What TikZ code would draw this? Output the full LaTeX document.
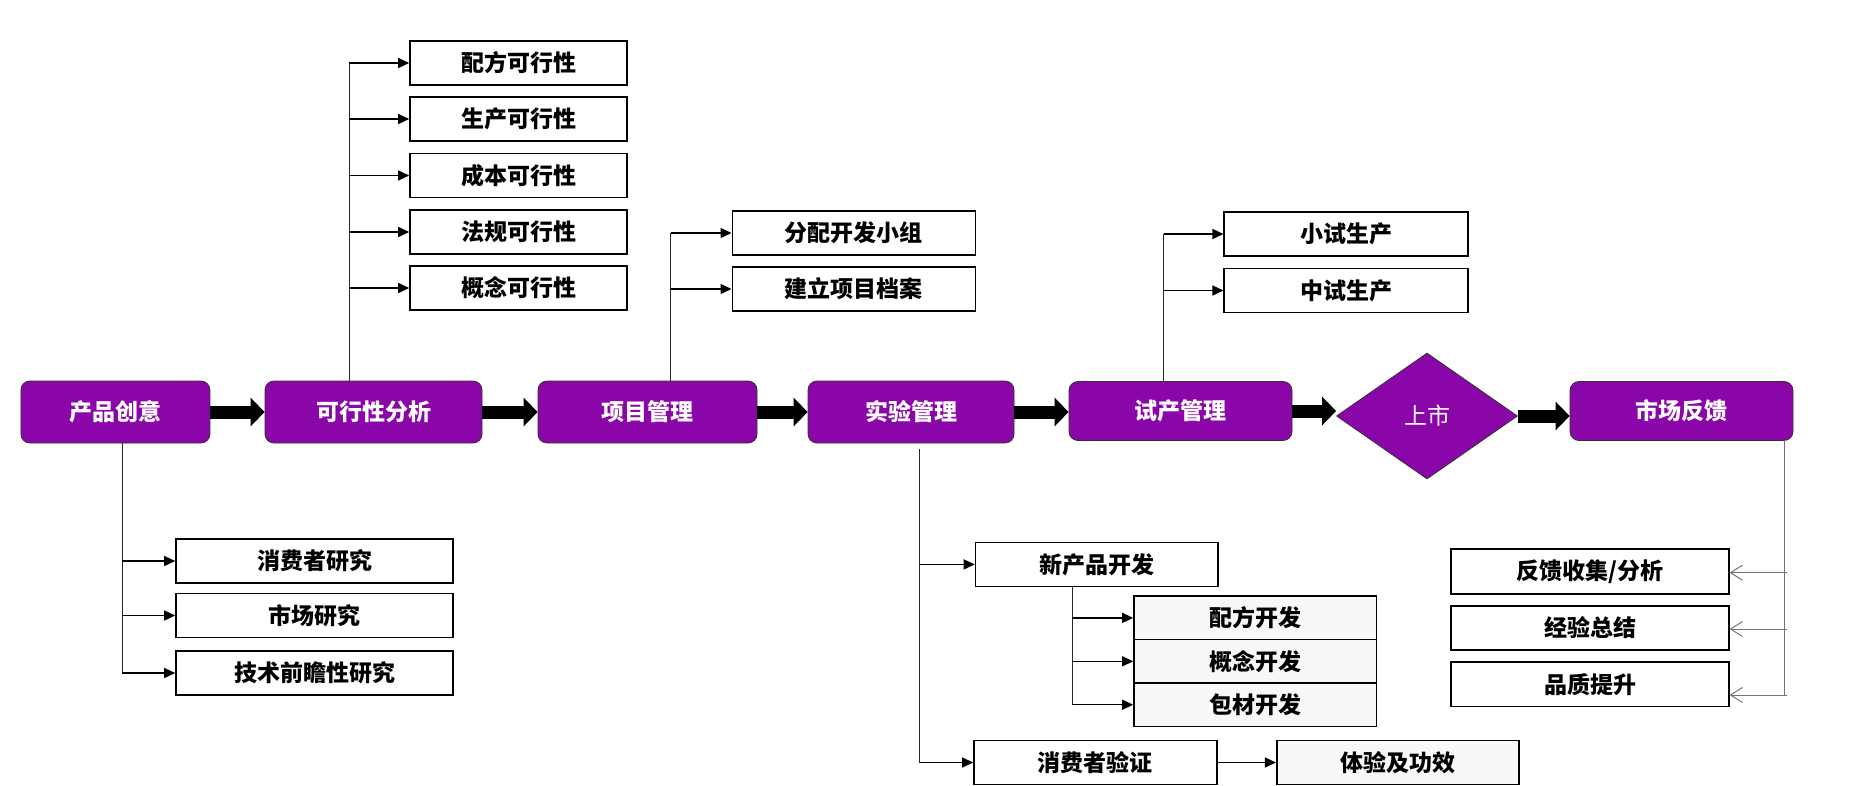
\documentclass[tikz,border=0pt]{standalone}
\usepackage{fontspec}
\newfontfamily\cjk{Noto Sans CJK SC}
\usetikzlibrary{arrows.meta,shapes.geometric,positioning}

\definecolor{stagepurple}{RGB}{138,6,168}
\definecolor{paleleaf}{RGB}{248,248,248}

\tikzset{
  stage/.style={draw=black!80, line width=0.8pt, fill=stagepurple, rounded corners=9pt,
    minimum height=62pt, inner sep=0pt, text=white, font=\cjk\bfseries\fontsize{23}{27}\selectfont},
  leaf/.style={draw, line width=1.6pt, fill=white, minimum height=44pt, inner sep=0pt,
    font=\cjk\bfseries\fontsize{23}{27}\selectfont},
  subleaf/.style={leaf, fill=paleleaf},
  bigarrow/.style={line width=13pt, -{Triangle[length=14pt,width=28pt]}},
  link/.style={line width=1.3pt, -{Triangle[length=11pt,width=10pt]}},
  trunk/.style={line width=0.8pt, black!85},
  back/.style={line width=1pt, black!55, -{Straight Barb[length=12pt,width=15pt]}}
}

\begin{document}
\begin{tikzpicture}[x=1pt,y=-1pt]
\useasboundingbox (0,0) rectangle (1854,785);

% main flow
\node [stage, minimum width=189pt] (idea) at (115.4,412) {产品创意};
\node [stage, minimum width=217pt] (feas) at (373.5,412) {可行性分析};
\node [stage, minimum width=219pt] (proj) at (647.5,412) {项目管理};
\node [stage, minimum width=206pt] (lab) at (911,412) {实验管理};
\node [stage, minimum width=223pt, minimum height=59pt] (trial) at (1180.5,411) {试产管理};
\node [diamond, draw=black!80, line width=0.8pt, fill=stagepurple, minimum width=181pt,
  minimum height=126pt, inner sep=0pt, text=white, font=\cjk\fontsize{23}{27}\selectfont]
  (launch) at (1427,416) {上市};
\node [stage, minimum width=223pt, minimum height=59pt] (market) at (1681.5,411) {市场反馈};

\foreach \a/\b in {idea/feas,feas/proj,proj/lab,lab/trial,trial/launch,launch/market}
  \draw [bigarrow] (\a.east) -- (\a.east -| \b.west);

% feasibility
\foreach \i/\element/\y in {1/配方可行性/63,2/生产可行性/119,3/成本可行性/175.5,4/法规可行性/232,5/概念可行性/288}
  \node [leaf, minimum width=217pt] (f\i) at (518.5,\y) {\element};
\coordinate (ft) at (349,381);
\draw [trunk] (ft) -- (ft |- f1.west);
\foreach \i in {1,...,5}
  \draw [link] (ft |- f\i.west) -- (f\i.west);

% project
\foreach \i/\element/\y in {1/分配开发小组/233,2/建立项目档案/289}
  \node [leaf, minimum width=243pt] (p\i) at (853.8,\y) {\element};
\coordinate (pt) at (670.6,381);
\draw [trunk] (pt) -- (pt |- p1.west);
\foreach \i in {1,2}
  \draw [link] (pt |- p\i.west) -- (p\i.west);

% trial production
\foreach \i/\element/\y in {1/小试生产/234,2/中试生产/290.5}
  \node [leaf, minimum width=243.5pt] (t\i) at (1346,\y) {\element};
\coordinate (tt) at (1163.5,381);
\draw [trunk] (tt) -- (tt |- t1.west);
\foreach \i in {1,2}
  \draw [link] (tt |- t\i.west) -- (t\i.west);

% idea research
\foreach \i/\element/\y in {1/消费者研究/561,2/市场研究/615.5,3/技术前瞻性研究/673}
  \node [leaf, minimum width=277pt] (r\i) at (314.5,\y) {\element};
\coordinate (rt) at (122,443);
\draw [trunk] (rt) -- (rt |- r3.west);
\foreach \i in {1,2,3}
  \draw [link] (rt |- r\i.west) -- (r\i.west);

% lab work
\node [leaf, minimum width=242.5pt] (dev) at (1096.75,564.4) {新产品开发};
\node [leaf, minimum width=243pt] (val) at (1095.4,762.5) {消费者验证};
\node [subleaf, minimum width=242.5pt] (eff) at (1398,762.5) {体验及功效};
\coordinate (lt) at (919.5,449);
\draw [trunk] (lt) -- (lt |- val.west);
\draw [link] (lt |- dev.west) -- (dev.west);
\draw [link] (lt |- val.west) -- (val.west);
\draw [link] (val.east) -- (eff.west);

\foreach \i/\element/\y in {1/配方开发/617.9,2/概念开发/661.3,3/包材开发/704.7}
  \node [subleaf, minimum width=242.4pt, minimum height=43.4pt] (d\i) at (1255.2,\y) {\element};
\coordinate (dt) at (1072.5,586);
\draw [trunk] (dt) -- (dt |- d3.west);
\foreach \i in {1,2,3}
  \draw [link] (dt |- d\i.west) -- (d\i.west);

% market feedback
\foreach \i/\element/\y in {1/{反馈收集/分析}/571.5,2/经验总结/628,3/品质提升/684.4}
  \node [leaf, minimum width=277.5pt, minimum height=44.5pt] (q\i) at (1590,\y) {\element};
\coordinate (qt) at (1784,440);
\draw [back, -] (qt) -- (1784,695);
\draw [back] (1787,572.7) -- (q1.east |- 0,572.7);
\draw [back] (1787,629) -- (q2.east |- 0,629);
\draw [back] (1787,695) -- (q3.east |- 0,695);

\end{tikzpicture}
\end{document}
